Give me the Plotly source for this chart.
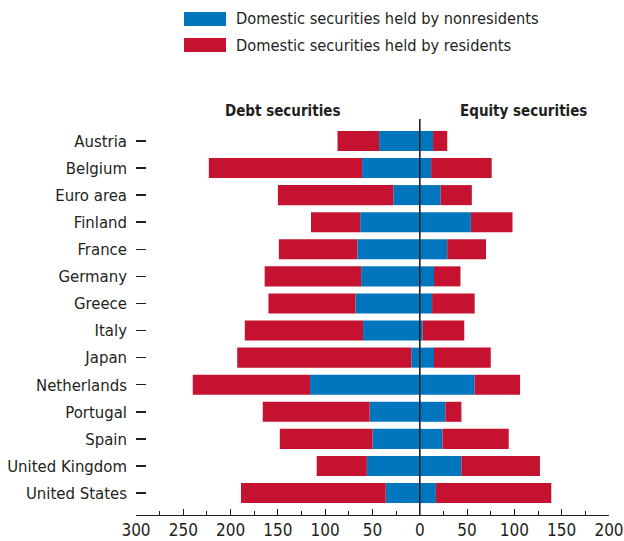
import plotly.graph_objects as go

countries = ["Austria", "Belgium", "Euro area", "Finland", "France", "Germany", "Greece",
             "Italy", "Japan", "Netherlands", "Portugal", "Spain", "United Kingdom", "United States"]

# Debt securities (plotted to the left)
debt_nonresidents = [43, 61, 28, 63, 66, 62, 68, 60, 9, 116, 53, 50, 56, 36]
debt_residents    = [44, 162, 122, 52, 83, 102, 92, 125, 184, 124, 113, 98, 53, 153]
# Equity securities (plotted to the right)
equity_nonresidents = [14, 12, 22, 54, 29, 15, 13, 3, 15, 58, 27, 24, 44, 17]
equity_residents    = [15, 64, 33, 44, 41, 28, 45, 44, 60, 48, 17, 70, 83, 122]

series_names = ["Domestic securities held by nonresidents", "Domestic securities held by residents"]
panel_titles = ["Debt securities", "Equity securities"]

x_tick_vals = [-300, -250, -200, -150, -100, -50, 0, 50, 100, 150, 200]
x_tick_text = ["300", "250", "200", "150", "100", "50", "0", "50", "100", "150", "200"]
x_minor_vals = [-275, -225, -175, -125, -75, -25, 25, 75, 125, 175]

BLUE = "#0076BF"
RED = "#C41230"
INK = "#231F20"
FONT = "DejaVu Sans Condensed, DejaVu Sans, sans-serif"

W, H = 624, 541
# plot area in page pixels
PX0, PX1, PY0, PY1 = 136, 609, 119, 515
L, R, T, B = PX0, W - PX1, PY0, H - PY1
PW, PH = PX1 - PX0, PY1 - PY0


def px_x(px):
    return (px - PX0) / PW


def px_y(py):
    return (PY1 - py) / PH


fig = go.Figure()
neg = lambda v: [-a for a in v]
fig.add_trace(go.Bar(y=countries, x=neg(debt_nonresidents), orientation="h", marker_color=BLUE,
                     marker_line_width=0, width=0.74, name=series_names[0], showlegend=False))
fig.add_trace(go.Bar(y=countries, x=equity_nonresidents, orientation="h", marker_color=BLUE,
                     marker_line_width=0, width=0.74, name=series_names[0], showlegend=False))
fig.add_trace(go.Bar(y=countries, x=neg(debt_residents), orientation="h", marker_color=RED,
                     marker_line_width=0, width=0.74, name=series_names[1], showlegend=False))
fig.add_trace(go.Bar(y=countries, x=equity_residents, orientation="h", marker_color=RED,
                     marker_line_width=0, width=0.74, name=series_names[1], showlegend=False))

shapes = [dict(type="line", xref="x", yref="paper", x0=0, x1=0, y0=0, y1=1,
               line=dict(color=INK, width=1.6), layer="above")]
annotations = []
# manual legend
for i, (name, col) in enumerate(zip(series_names, [BLUE, RED])):
    top = 12 + i * 26
    shapes.append(dict(type="rect", xref="paper", yref="paper",
                       x0=px_x(184), x1=px_x(226), y0=px_y(top + 14), y1=px_y(top),
                       fillcolor=col, line_width=0))
    annotations.append(dict(xref="paper", yref="paper", x=px_x(234), y=px_y(top + 7),
                            xanchor="left", yanchor="middle", text=name, showarrow=False,
                            font=dict(family=FONT, size=16.3, color=INK)))
# panel titles
for t, cx in zip(panel_titles, [-145, 110]):
    annotations.append(dict(xref="x", yref="paper", x=cx, y=px_y(111), xanchor="center",
                            yanchor="middle", text="<b>%s</b>" % t, showarrow=False,
                            font=dict(family=FONT, size=15, color=INK)))

fig.update_layout(
    width=W, height=H, margin=dict(l=L, r=R, t=T, b=B, autoexpand=False),
    barmode="relative", plot_bgcolor="white", paper_bgcolor="white",
    font=dict(family=FONT, size=17, color=INK),
    shapes=shapes, annotations=annotations,
    xaxis=dict(range=[-300, 200], tickmode="array", tickvals=x_tick_vals, ticktext=x_tick_text,
               ticks="inside", ticklen=6, tickwidth=1, tickcolor=INK,
               minor=dict(tickmode="array", tickvals=x_minor_vals, ticks="inside", ticklen=4,
                          tickwidth=1, tickcolor=INK, showgrid=False),
               showline=True, linecolor=INK, linewidth=1, showgrid=False, zeroline=False,
               automargin=False, tickfont=dict(size=17)),
    yaxis=dict(range=[13.81, -0.81], ticks="inside", ticklen=10, tickwidth=1.5, tickcolor=INK,
               showline=False, showgrid=False, zeroline=False, ticklabelstandoff=8,
               automargin=False, tickfont=dict(size=16.6)),
)

fig.write_html(
    "out.html",
    config={"displayModeBar": False, "staticPlot": True},
    post_script="document.body.style.margin='0';document.body.style.overflow='hidden';",
)
